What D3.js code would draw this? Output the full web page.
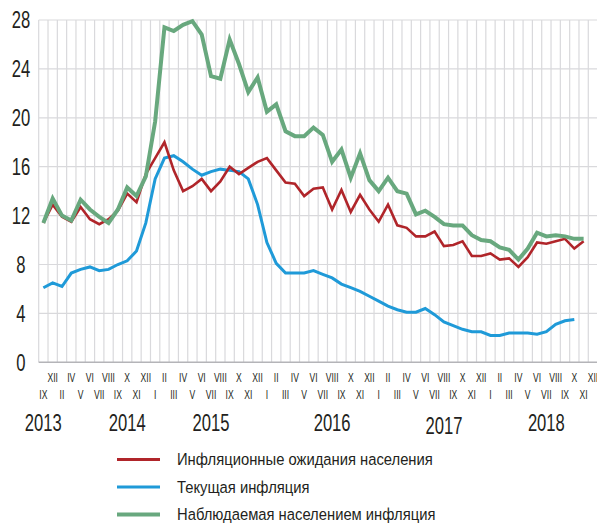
<!DOCTYPE html>
<html>
<head>
<meta charset="utf-8">
<script src="https://cdn.jsdelivr.net/npm/d3@7"></script>
<style>
  body { margin: 0; background: #fff; }
  text { font-family: "Liberation Sans", Arial, sans-serif; fill: #231f20; }
</style>
</head>
<body>
<svg id="chart" width="597" height="526"></svg>
<script>
// survey months (irregular until spring 2014, monthly afterwards)
var periods = [
  "09.2013","12.2013","02.2014","04.2014","05.2014","06.2014","07.2014","08.2014","09.2014","10.2014","11.2014","12.2014",
  "01.2015","02.2015","03.2015","04.2015","05.2015","06.2015","07.2015","08.2015","09.2015","10.2015","11.2015","12.2015",
  "01.2016","02.2016","03.2016","04.2016","05.2016","06.2016","07.2016","08.2016","09.2016","10.2016","11.2016","12.2016",
  "01.2017","02.2017","03.2017","04.2017","05.2017","06.2017","07.2017","08.2017","09.2017","10.2017","11.2017","12.2017",
  "01.2018","02.2018","03.2018","04.2018","05.2018","06.2018","07.2018","08.2018","09.2018","10.2018","11.2018","12.2018"
];
var romans = ["I","II","III","IV","V","VI","VII","VIII","IX","X","XI","XII"];

// % yoy
var expectations = [
  11.4, 12.9, 11.9, 11.5, 12.7, 11.7, 11.3, 11.7, 12.4, 13.8, 13.1, 15.4,
  16.7, 18.0, 15.7, 14.0, 14.4, 15.0, 14.0, 14.8, 16.0, 15.4, 15.9, 16.4,
  16.7, 15.7, 14.7, 14.6, 13.6, 14.2, 14.3, 12.5, 14.1, 12.3, 13.7, 12.5,
  11.5, 12.9, 11.2, 11.0, 10.3, 10.3, 10.7, 9.5, 9.6, 9.9, 8.7, 8.7,
  8.9, 8.4, 8.5, 7.8, 8.6, 9.8, 9.7, 9.9, 10.1, 9.3, 9.9
];
var current = [
  6.1, 6.5, 6.2, 7.3, 7.6, 7.8, 7.5, 7.6, 8.0, 8.3, 9.1, 11.4,
  15.0, 16.7, 16.9, 16.4, 15.8, 15.3, 15.6, 15.8, 15.7, 15.6, 15.0, 12.9,
  9.8, 8.1, 7.3, 7.3, 7.3, 7.5, 7.2, 6.9, 6.4, 6.1, 5.8, 5.4,
  5.0, 4.6, 4.3, 4.1, 4.1, 4.4, 3.9, 3.3, 3.0, 2.7, 2.5, 2.5,
  2.2, 2.2, 2.4, 2.4, 2.4, 2.3, 2.5, 3.1, 3.4, 3.5
];
var observed = [
  11.4, 13.4, 12.0, 11.6, 13.3, 12.5, 11.9, 11.4, 12.5, 14.3, 13.6, 15.2,
  19.7, 27.4, 27.1, 27.6, 27.9, 26.8, 23.4, 23.2, 26.4, 24.4, 22.1, 23.3,
  20.5, 21.1, 18.9, 18.5, 18.5, 19.2, 18.6, 16.4, 17.4, 15.1, 17.1, 14.9,
  14.0, 15.1, 14.0, 13.8, 12.1, 12.4, 11.9, 11.3, 11.2, 11.2, 10.4, 10.0,
  9.9, 9.4, 9.2, 8.4, 9.3, 10.6, 10.3, 10.4, 10.3, 10.1, 10.1
];

var yTicks = [0, 4, 8, 12, 16, 20, 24, 28];
var yearTicks = ["2013", "2014", "2015", "2016", "2017", "2018"];
var yearAnchors = ["09.2013", "10.2014", "07.2015", "08.2016", "08.2017", "07.2018"];

var seriesNames = ["Инфляционные ожидания населения", "Текущая инфляция", "Наблюдаемая населением инфляция"];
var seriesColors = ["#b0252a", "#1f9ad8", "#68a87e"];
var seriesWidths = [2.6, 3, 4];

var svg = d3.select("#chart");

var x = d3.scaleBand().domain(periods).range([38.7, 597.6]).padding(0);
var y = d3.scaleLinear().domain([0, 28]).range([362.3, 20]);
var cx = function(p) { return x(p) + x.bandwidth() / 2; };

// the original uses a condensed face; squeeze Liberation Sans horizontally to match
function squeezeFactor(str, size, target) {
  var t = svg.append("text").style("font-size", size + "px").text(str);
  var w = t.node().getComputedTextLength();
  t.remove();
  return target / w;
}
function squeeze(sel, k) {
  sel.attr("transform", function() {
    var x0 = +d3.select(this).attr("x");
    return "matrix(" + k + ",0,0,1," + (x0 * (1 - k)) + ",0)";
  });
}

// grid
var grid = svg.append("g");
grid.selectAll(".vgrid")
  .data(periods)
  .enter().append("line")
    .attr("x1", function(d) { return x(d); })
    .attr("x2", function(d) { return x(d); })
    .attr("y1", y(28))
    .attr("y2", y(0))
    .style("stroke", "#d9d9dc")
    .style("stroke-width", 1.2);

grid.selectAll(".hgrid")
  .data(yTicks.slice(1))
  .enter().append("line")
    .attr("x1", x.range()[0])
    .attr("x2", 597)
    .attr("y1", function(d) { return y(d); })
    .attr("y2", function(d) { return y(d); })
    .style("stroke", "#d9d9dc")
    .style("stroke-width", 1.2);

svg.append("line")
    .attr("x1", x.range()[0])
    .attr("x2", 597)
    .attr("y1", y(0))
    .attr("y2", y(0))
    .style("stroke", "#b4b4b8")
    .style("stroke-width", 1.6);

var kNum = squeezeFactor("2013", 23, 37);

// y labels
svg.selectAll(".ylab")
  .data(yTicks)
  .enter().append("text")
    .attr("x", 21)
    .attr("y", function(d) { return y(d); })
    .attr("dy", "0.36em")
    .attr("text-anchor", "middle")
    .style("font-size", "23px")
    .text(function(d) { return d; })
    .call(squeeze, kNum);

// month labels, alternating rows
var kRom = squeezeFactor("XII", 12.5, 10.5);
svg.selectAll(".mlab")
  .data(periods)
  .enter().append("text")
    .attr("x", cx)
    .attr("y", function(d, i) { return i % 2 ? 382 : 399; })
    .attr("text-anchor", "middle")
    .style("font-size", "12.5px")
    .text(function(d) { return romans[+d.split(".")[0] - 1]; })
    .call(squeeze, kRom);

svg.selectAll(".yrlab")
  .data(yearTicks)
  .enter().append("text")
    .attr("x", function(d, i) { return cx(yearAnchors[i]); })
    .attr("y", function(d) { return d === "2017" ? 434 : 431; })
    .attr("text-anchor", "middle")
    .style("font-size", "23px")
    .text(function(d) { return d; })
    .call(squeeze, kNum);

// lines: current below, then expectations, observed on top
var series = [
  {name: seriesNames[1], values: current, color: seriesColors[1], w: seriesWidths[1]},
  {name: seriesNames[0], values: expectations, color: seriesColors[0], w: seriesWidths[0]},
  {name: seriesNames[2], values: observed, color: seriesColors[2], w: seriesWidths[2]}
];

var line = d3.line()
    .x(function(d, i) { return cx(periods[i]); })
    .y(function(d) { return y(d); });

svg.selectAll(".series")
  .data(series)
  .enter().append("path")
    .attr("d", function(d) { return line(d.values); })
    .style("fill", "none")
    .style("stroke", function(d) { return d.color; })
    .style("stroke-width", function(d) { return d.w; })
    .style("stroke-linejoin", "miter");

// legend
var kLeg = squeezeFactor(seriesNames[0], 16.5, 256);
var legend = svg.selectAll(".legend")
  .data(seriesNames)
  .enter().append("g")
    .attr("transform", function(d, i) { return "translate(0," + (459.5 + i * 27.5) + ")"; });

legend.append("line")
    .attr("x1", 117)
    .attr("x2", 160)
    .style("stroke", function(d, i) { return seriesColors[i]; })
    .style("stroke-width", function(d, i) { return i === 2 ? 4 : 3; });

legend.append("text")
    .attr("x", 177)
    .attr("dy", "0.36em")
    .style("font-size", "16.5px")
    .text(function(d) { return d; })
    .call(squeeze, kLeg);
</script>
</body>
</html>
